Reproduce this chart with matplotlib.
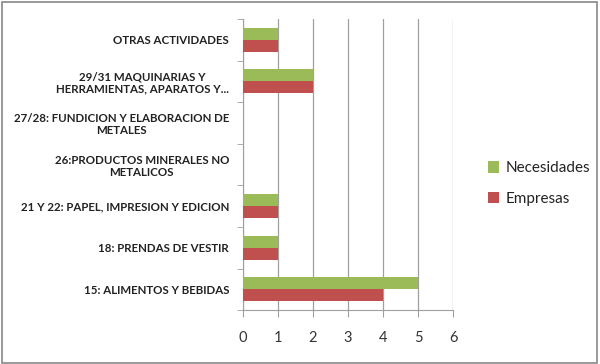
import numpy as np
import matplotlib.pyplot as plt
from matplotlib.patches import Rectangle

plt.rcParams['font.family'] = ['Lato', 'DejaVu Sans']

# Data (bottom to top)
categories = [
    '15: ALIMENTOS Y BEBIDAS',
    '18: PRENDAS DE VESTIR',
    '21 Y 22: PAPEL, IMPRESION Y EDICION',
    '26:PRODUCTOS MINERALES NO\nMETALICOS',
    '27/28: FUNDICION Y ELABORACION DE\nMETALES',
    '29/31 MAQUINARIAS Y\nHERRAMIENTAS, APARATOS Y...',
    'OTRAS ACTIVIDADES',
]
empresas = [4, 1, 1, 0, 0, 2, 1]
necesidades = [5, 1, 1, 0, 0, 2, 1]
x_ticks = [0, 1, 2, 3, 4, 5, 6]

green = '#9BBB59'
red = '#C0504D'
grid_col = '#A0A0A0'

fig = plt.figure(figsize=(6, 3.64), dpi=100)
ax = fig.add_axes([0.405, 0.148, 0.35, 0.80])

y = np.arange(len(categories))
h = 0.29
ax.barh(y - h / 2, empresas, height=h, color=red, label='Empresas', zorder=3)
ax.barh(y + h / 2, necesidades, height=h, color=green, label='Necesidades', zorder=3)

ax.set_xlim(0, 6)
ax.set_ylim(-0.5, len(categories) - 0.5)
ax.set_xticks(x_ticks)
ax.set_xticklabels([str(t) for t in x_ticks], fontsize=10.5, color='#333333')
ax.set_yticks(y)
ax.set_yticklabels(categories, fontsize=8.3, fontweight='bold', color='#222222',
                   ha='right', multialignment='center', linespacing=1.15)
ax.tick_params(axis='y', which='major', length=0, pad=10)
ax.set_yticks(np.arange(-0.5, len(categories), 1), minor=True)
ax.tick_params(axis='y', which='minor', length=4, color=grid_col, direction='out')
ax.tick_params(axis='x', length=5, color=grid_col, pad=10)

ax.grid(axis='x', color=grid_col, linewidth=0.9, zorder=0)
for s in ['top', 'right']:
    ax.spines[s].set_visible(False)
for s in ['left', 'bottom']:
    ax.spines[s].set_color(grid_col)

handles, labels = ax.get_legend_handles_labels()
fig.legend(handles[::-1], labels[::-1], loc='center left',
           bbox_to_anchor=(0.79, 0.495), frameon=False, fontsize=11,
           handlelength=0.75, handleheight=0.75, handletextpad=0.4,
           labelspacing=1.1, labelcolor='#222222')

fig.patches.append(Rectangle((0.003, 0.004), 0.992, 0.99, transform=fig.transFigure,
                             fill=False, edgecolor='#888888', linewidth=1.2))

fig.savefig('out.png', dpi=100)
